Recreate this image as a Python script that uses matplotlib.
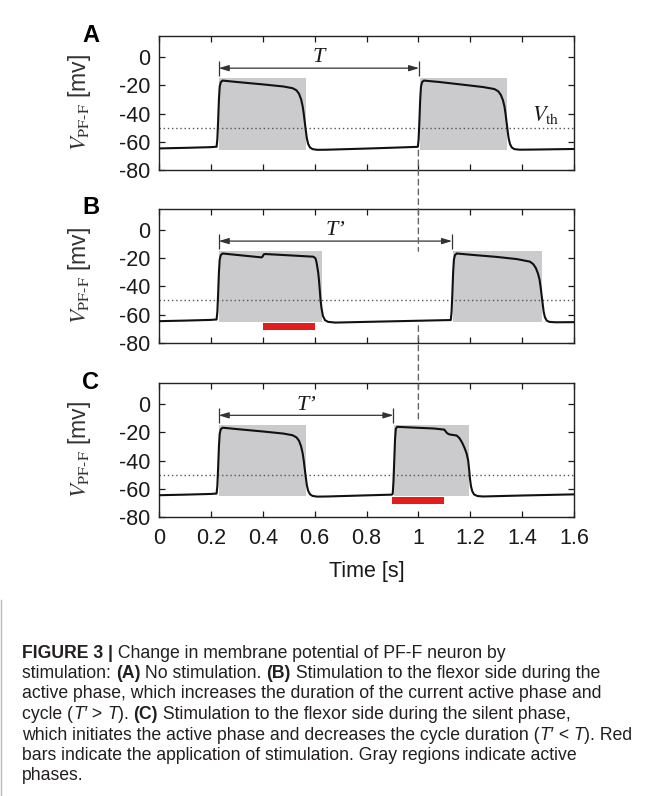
import numpy as np
import matplotlib
matplotlib.use("Agg")
import matplotlib.pyplot as plt
from matplotlib.patches import Rectangle, ConnectionPatch

W, H = 651, 796

plt.rcParams["font.family"] = ["Liberation Sans", "DejaVu Sans"]
plt.rcParams["mathtext.fontset"] = "stix"
plt.rcParams["axes.unicode_minus"] = False

# ---- data (time [s], membrane potential [mV]) ----
t_a = [0.0, 0.10, 0.20, 0.222, 0.225, 0.228, 0.231, 0.234, 0.238, 0.245,
       0.30, 0.40, 0.48, 0.515, 0.530, 0.540, 0.548, 0.554, 0.558, 0.562,
       0.566, 0.570, 0.575, 0.582, 0.592, 0.61, 0.65, 0.80, 0.90, 0.995,
       0.998, 1.001, 1.004, 1.007, 1.010, 1.014, 1.021, 1.08, 1.18, 1.25,
       1.293, 1.308, 1.318, 1.326, 1.332, 1.336, 1.340, 1.344, 1.348, 1.353,
       1.36, 1.37, 1.39, 1.45, 1.6]
v_a = [-64.7, -64.3, -63.8, -63.5, -58.0, -45.0, -30.0, -21.0, -17.8, -16.6,
       -17.6, -19.3, -20.8, -22.0, -23.5, -26.0, -30.0, -35.0, -40.0, -46.0,
       -52.0, -57.5, -61.5, -64.0, -65.2, -65.7, -65.6, -64.8, -64.2, -63.6,
       -63.5, -58.0, -45.0, -30.0, -21.0, -17.8, -16.6, -17.6, -19.7, -21.2,
       -22.6, -24.2, -26.8, -30.5, -35.0, -40.0, -46.0, -52.0, -57.5, -61.5,
       -64.0, -65.2, -65.6, -65.5, -65.1]

t_b = [0.0, 0.10, 0.20, 0.222, 0.225, 0.228, 0.231, 0.234, 0.238, 0.245,
       0.32, 0.396, 0.400, 0.404, 0.41, 0.50, 0.595, 0.603, 0.607, 0.611,
       0.614, 0.617, 0.620, 0.623, 0.627, 0.632, 0.640, 0.652, 0.68, 0.80,
       1.00, 1.125, 1.128, 1.131, 1.134, 1.137, 1.141, 1.148, 1.22, 1.30,
       1.38, 1.43, 1.443, 1.453, 1.461, 1.467, 1.471, 1.475, 1.479, 1.483,
       1.488, 1.495, 1.505, 1.53, 1.6]
v_b = [-64.7, -64.3, -63.8, -63.5, -58.0, -45.0, -30.0, -21.0, -17.8, -16.6,
       -18.0, -19.4, -18.6, -17.2, -17.0, -17.9, -18.9, -20.0, -22.5, -27.0,
       -30.5, -36.0, -43.0, -50.0, -56.0, -61.0, -64.0, -65.2, -65.7, -65.2,
       -64.4, -63.9, -58.0, -45.0, -30.0, -21.0, -17.8, -16.6, -17.8, -19.0,
       -20.6, -22.4, -24.2, -27.0, -30.8, -35.0, -40.0, -46.0, -52.0, -58.0,
       -62.0, -64.3, -65.2, -65.5, -65.4]

t_c = [0.0, 0.10, 0.20, 0.222, 0.225, 0.228, 0.231, 0.234, 0.238, 0.245,
       0.30, 0.40, 0.48, 0.515, 0.530, 0.540, 0.548, 0.554, 0.558, 0.562,
       0.566, 0.570, 0.575, 0.582, 0.592, 0.61, 0.65, 0.80, 0.897, 0.901,
       0.904, 0.907, 0.910, 0.913, 0.918, 1.00, 1.06, 1.100, 1.105, 1.110,
       1.118, 1.13, 1.148, 1.158, 1.168, 1.178, 1.186, 1.192, 1.196, 1.199,
       1.203, 1.208, 1.215, 1.228, 1.25, 1.40, 1.6]
v_c = [-64.7, -64.3, -63.8, -63.5, -58.0, -45.0, -30.0, -21.0, -17.8, -16.6,
       -17.6, -19.3, -20.8, -22.0, -23.5, -26.0, -30.0, -35.0, -40.0, -46.0,
       -52.0, -57.5, -61.5, -64.0, -65.2, -65.7, -65.6, -64.8, -64.3, -63.8,
       -55.0, -40.0, -25.0, -17.5, -16.0, -16.7, -17.2, -18.0, -19.2, -20.4,
       -21.3, -21.7, -22.2, -24.0, -27.0, -31.0, -35.0, -40.0, -47.0, -53.0,
       -58.5, -62.0, -64.2, -65.3, -65.6, -64.9, -64.1]

# active phases (gray), stimulation (red), cycle period arrows
active_a = [(0.23, 0.568), (1.006, 1.342)]
active_b = [(0.23, 0.628), (1.135, 1.476)]
active_c = [(0.23, 0.567), (0.907, 1.197)]
stim_b = (0.40, 0.60)
stim_c = (0.90, 1.10)
period_a = (0.23, 1.003)
period_b = (0.23, 1.130)
period_c = (0.23, 0.904)
period_labels = ["T", "T’", "T’"]
v_th = -50
t_ref = 1.0

x_ticks = [0, 0.2, 0.4, 0.6, 0.8, 1.0, 1.2, 1.4, 1.6]
x_ticklabels = ["0", "0.2", "0.4", "0.6", "0.8", "1", "1.2", "1.4", "1.6"]
y_ticks = [-80, -60, -40, -20, 0]

GRAY = "#cbcacd"
RED = "#e31c1c"
INK = "#1a1a1a"
TICK_SIZE = 15.5

fig = plt.figure(figsize=(W / 100, H / 100), dpi=100)

def px_axes(left, top, right, bottom):
    return fig.add_axes([left / W, 1 - bottom / H, (right - left) / W, (bottom - top) / H])

ax_a = px_axes(159, 36, 574, 170)
ax_b = px_axes(159, 209, 574, 342.7)
ax_c = px_axes(159, 383.3, 574, 516.7)

def draw_panel(ax, t, v, active, stim, period, plabel):
    for s, e in active:
        ax.add_patch(Rectangle((s, -65.5), e - s, 50.8, color=GRAY, lw=0, zorder=1))
    ax.axhline(v_th, color="#555555", ls=(0, (1, 2)), lw=1.0, zorder=2)
    ax.plot(t, v, color="#111111", lw=1.5, zorder=4)
    if stim is not None:
        ax.add_patch(Rectangle((stim[0], -71), stim[1] - stim[0], 5, color=RED, lw=0, zorder=3))
    y_arrow = -7.8
    ax.annotate("", xy=(period[1], y_arrow), xytext=(period[0], y_arrow),
                arrowprops=dict(arrowstyle="<|-|>,head_length=0.6,head_width=0.18",
                                color="#333333", lw=0.9, shrinkA=0, shrinkB=0), zorder=5)
    ax.vlines(period, y_arrow - 5.3, y_arrow + 5.3, color="#333333", lw=0.9, zorder=5)
    ax.text((period[0] + period[1]) / 2, -0.5, plabel, ha="center", va="center",
            fontsize=16, color=INK, family="Liberation Serif", style="italic")

    ax.set_xlim(0, 1.6)
    ax.set_ylim(-80, 15)
    ax.set_xticks(x_ticks)
    ax.set_yticks(y_ticks)
    ax.tick_params(direction="in", top=True, right=True, length=4, width=0.9,
                   labelsize=TICK_SIZE, colors=INK)
    ax.tick_params(axis="y", pad=6)
    ax.tick_params(axis="x", pad=8)
    for sp in ax.spines.values():
        sp.set_linewidth(1.0)
        sp.set_color("#222222")
    ax.set_ylabel(r"$V_{\mathrm{PF\text{-}F}}$ [mv]", fontsize=16.5, color="#333333")
    ax.yaxis.set_label_coords(-0.16, 0.5)

draw_panel(ax_a, t_a, v_a, active_a, None, period_a, period_labels[0])
draw_panel(ax_b, t_b, v_b, active_b, stim_b, period_b, period_labels[1])
draw_panel(ax_c, t_c, v_c, active_c, stim_c, period_c, period_labels[2])

ax_a.text(1.49, -41, r"$V_{\mathrm{th}}$", ha="center", va="center", fontsize=16, color=INK)

ax_a.set_xticklabels([])
ax_b.set_xticklabels([])
ax_c.set_xticklabels(x_ticklabels)
ax_c.set_xlabel("Time [s]", fontsize=TICK_SIZE, color=INK)
ax_c.xaxis.set_label_coords(0.5, -0.33)

# dashed reference line at t = 1 s running across panels
for axA, yA, axB, yB in [(ax_a, -66, ax_b, -15), (ax_b, -68, ax_c, -13)]:
    con = ConnectionPatch(xyA=(t_ref, yA), coordsA="data", axesA=axA,
                          xyB=(t_ref, yB), coordsB="data", axesB=axB,
                          color="#666666", lw=1.0, ls=(0, (4, 3)), zorder=6)
    fig.add_artist(con)

for ax, letter in [(ax_a, "A"), (ax_b, "B"), (ax_c, "C")]:
    top = ax.get_position().y1
    fig.text(91 / W, top + 1 / H, letter, ha="center", va="center",
             fontsize=17, fontweight="bold", color="black")

# ---- caption ----
caption = [
    [("FIGURE 3 |", "bold", "normal"), (" Change in membrane potential of PF-F neuron by", "normal", "normal")],
    [("stimulation: ", "normal", "normal"), ("(A)", "bold", "normal"), (" No stimulation. ", "normal", "normal"),
     ("(B)", "bold", "normal"), (" Stimulation to the flexor side during the", "normal", "normal")],
    [("active phase, which increases the duration of the current active phase and", "normal", "normal")],
    [("cycle (", "normal", "normal"), ("T′", "normal", "italic"), (" > ", "normal", "normal"),
     ("T", "normal", "italic"), ("). ", "normal", "normal"), ("(C)", "bold", "normal"),
     (" Stimulation to the flexor side during the silent phase,", "normal", "normal")],
    [("which initiates the active phase and decreases the cycle duration (", "normal", "normal"),
     ("T′", "normal", "italic"), (" < ", "normal", "normal"), ("T", "normal", "italic"),
     ("). Red", "normal", "normal")],
    [("bars indicate the application of stimulation. Gray regions indicate active", "normal", "normal")],
    [("phases.", "normal", "normal")],
]
CAP_FONT = ["Liberation Sans", "DejaVu Sans"]

renderer = fig.canvas.get_renderer()

def text_width(s, size, weight, style):
    t1 = fig.text(0, 0, "|" + s + "|", fontsize=size, fontweight=weight, fontstyle=style, family=CAP_FONT)
    t2 = fig.text(0, 0, "||", fontsize=size, fontweight=weight, fontstyle=style, family=CAP_FONT)
    w = t1.get_window_extent(renderer).width - t2.get_window_extent(renderer).width
    t1.remove()
    t2.remove()
    return w

cap_size = 11.0
w_line = sum(text_width(s, cap_size, wt, st) for s, wt, st in caption[4])
cap_size = cap_size * 610 / w_line

y0, dy = 653, 20.5
for i, runs in enumerate(caption):
    x = 22
    y = y0 + i * dy
    for s, wt, st in runs:
        fig.text(x / W, 1 - y / H, s, fontsize=cap_size, fontweight=wt, fontstyle=st,
                 family=CAP_FONT, ha="left", va="center", color="#231f20")
        x += text_width(s, cap_size, wt, st)

fig.add_artist(plt.Line2D([1.0 / W, 1.0 / W], [0, 1 - 600 / H], color="#bbbbbb", lw=1.0))

fig.savefig("out.png", dpi=100)
